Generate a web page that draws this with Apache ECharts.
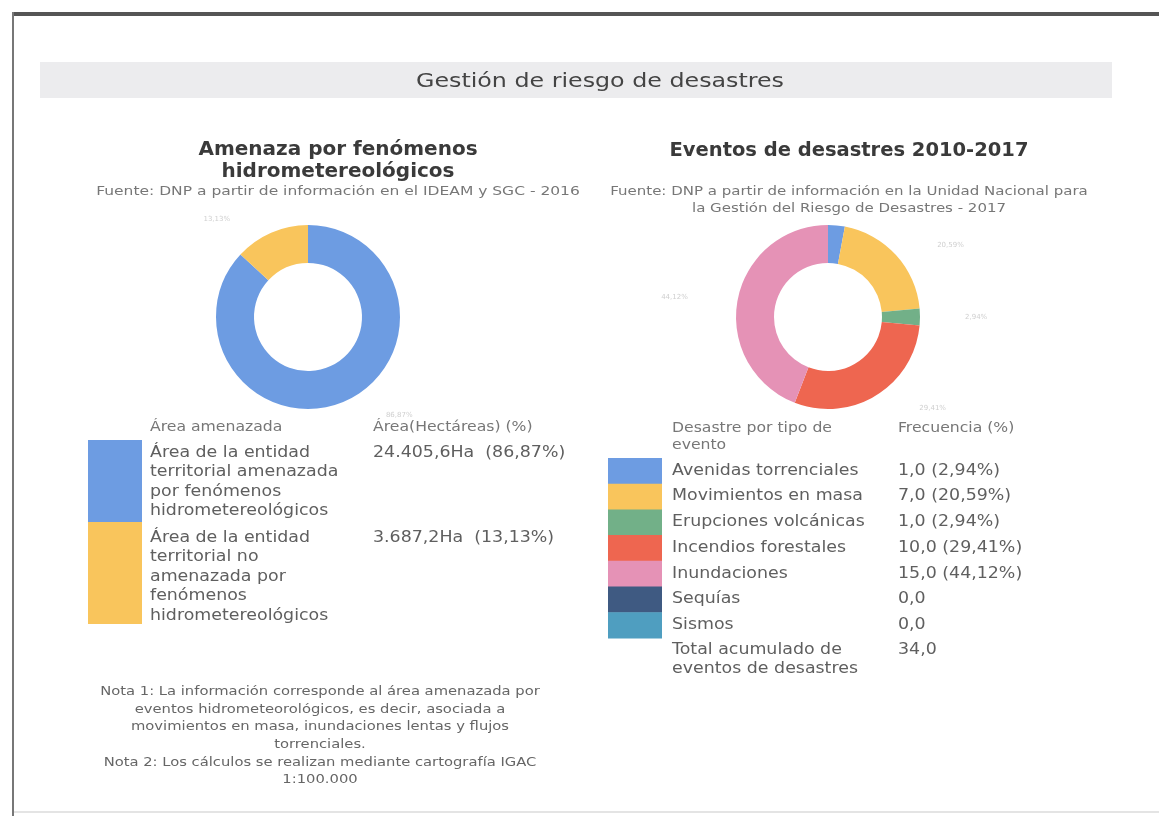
<!DOCTYPE html>
<html><head><meta charset="utf-8">
<script src="https://cdn.jsdelivr.net/npm/echarts@6/dist/echarts.min.js"></script>
<style>html,body{margin:0;padding:0;background:#fff}#c{width:1159px;height:816px}</style>
</head><body><div id="c"></div>
<script>
// ---------- data ----------
const pageTitle = 'Gestión de riesgo de desastres';
const leftTitle = ['Amenaza por fenómenos', 'hidrometereológicos'];
const leftSource = ['Fuente: DNP a partir de información en el IDEAM y SGC - 2016'];
const rightTitle = ['Eventos de desastres 2010-2017'];
const rightSource = ['Fuente: DNP a partir de información en la Unidad Nacional para', 'la Gestión del Riesgo de Desastres - 2017'];

const areaHeader = ['Área amenazada', 'Área(Hectáreas) (%)'];
const areaCategories = [
  ['Área de la entidad', 'territorial amenazada', 'por fenómenos', 'hidrometereológicos'],
  ['Área de la entidad', 'territorial no', 'amenazada por', 'fenómenos', 'hidrometereológicos']
];
const areaValues = [24405.6, 3687.2];
const areaText = ['24.405,6Ha  (86,87%)', '3.687,2Ha  (13,13%)'];
const areaPctLabels = ['86,87%', '13,13%'];

const eventHeader = [['Desastre por tipo de', 'evento'], 'Frecuencia (%)'];
const eventCategories = ['Avenidas torrenciales', 'Movimientos en masa', 'Erupciones volcánicas', 'Incendios forestales', 'Inundaciones', 'Sequías', 'Sismos'];
const eventValues = [1, 7, 1, 10, 15, 0, 0];
const eventText = ['1,0 (2,94%)', '7,0 (20,59%)', '1,0 (2,94%)', '10,0 (29,41%)', '15,0 (44,12%)', '0,0', '0,0'];
const eventPctLabels = ['2,94%', '20,59%', '2,94%', '29,41%', '44,12%', '', ''];
const eventTotal = [['Total acumulado de', 'eventos de desastres'], '34,0'];

const notes = [
  'Nota 1: La información corresponde al área amenazada por',
  'eventos hidrometeorológicos, es decir, asociada a',
  'movimientos en masa, inundaciones lentas y flujos',
  'torrenciales.',
  'Nota 2: Los cálculos se realizan mediante cartografía IGAC',
  '1:100.000'
];

// ---------- style ----------
const areaColors = ['#6d9ce2', '#f9c55c'];
const eventColors = ['#6d9ce2', '#f9c55c', '#72b088', '#ee6650', '#e592b6', '#3f5a82', '#4f9ec0'];
const FONT = "'DejaVu Sans', 'Liberation Sans', sans-serif";
const txt = '#5f5f5f';

function T(text, x, y, size, opts) {
  opts = opts || {};
  return { type: 'text', silent: true, z: 10,
    scaleX: opts.sx || 1, originX: x, originY: y,
    style: {
      text: text, x: x, y: y, fill: opts.fill || txt,
      font: (opts.weight || 'normal') + ' ' + size + 'px ' + FONT,
      textAlign: opts.align || 'left', textVerticalAlign: 'middle'
    }};
}

const SX = 1.16;
const g = [];
// frame
g.push({ type: 'rect', shape: { x: 12, y: 12, width: 1147, height: 4 }, style: { fill: '#555' }, silent: true });
g.push({ type: 'rect', shape: { x: 12, y: 12, width: 2, height: 804 }, style: { fill: '#777' }, silent: true });
g.push({ type: 'rect', shape: { x: 14, y: 811, width: 1145, height: 2 }, style: { fill: '#e4e4e4' }, silent: true });
// header band
g.push({ type: 'rect', shape: { x: 40, y: 62, width: 1072, height: 36 }, style: { fill: '#ececee' }, silent: true });
g.push(T(pageTitle, 600, 82, 19, { fill: '#444', align: 'center', sx: 1.25 }));

// titles
leftTitle.forEach((s, i) => g.push(T(s, 338, 150 + i * 22, 20, { weight: 'bold', fill: '#3a3a3a', align: 'center' })));
leftSource.forEach((s, i) => g.push(T(s, 338, 192 + i * 17, 12.5, { fill: '#777', align: 'center', sx: 1.24 })));
rightTitle.forEach((s, i) => g.push(T(s, 849, 151 + i * 22, 19.5, { weight: 'bold', fill: '#3a3a3a', align: 'center' })));
rightSource.forEach((s, i) => g.push(T(s, 849, 192 + i * 17, 12.5, { fill: '#777', align: 'center', sx: 1.2 })));

// left table
g.push(T(areaHeader[0], 150, 427, 13.5, { fill: '#777', sx: SX }));
g.push(T(areaHeader[1], 373, 427, 13.5, { fill: '#777', sx: SX }));
let yTop = 440;
const LH = 19.5;
areaCategories.forEach((lines, i) => {
  const h = i === 0 ? 82 : 102;
  g.push({ type: 'rect', shape: { x: 88, y: yTop, width: 54, height: h }, style: { fill: areaColors[i] }, silent: true });
  const y0 = yTop + (i === 0 ? 13 : 16);
  lines.forEach((s, j) => g.push(T(s, 150, y0 + j * LH, 15, { sx: SX })));
  g.push(T(areaText[i], 373, y0, 15, { sx: SX }));
  yTop += h;
});

// right table
g.push(T(eventHeader[0][0], 672, 428, 13.5, { fill: '#777', sx: SX }));
g.push(T(eventHeader[0][1], 672, 445, 13.5, { fill: '#777', sx: SX }));
g.push(T(eventHeader[1], 898, 428, 13.5, { fill: '#777', sx: SX }));
const RH = 25.7;
eventCategories.forEach((s, i) => {
  const y = 458 + i * RH;
  g.push({ type: 'rect', shape: { x: 608, y: y, width: 54, height: RH + 0.5 }, style: { fill: eventColors[i] }, silent: true });
  g.push(T(s, 672, y + RH / 2, 15, { sx: SX }));
  g.push(T(eventText[i], 898, y + RH / 2, 15, { sx: SX }));
});
g.push(T(eventTotal[0][0], 672, 650, 15, { sx: SX }));
g.push(T(eventTotal[0][1], 672, 669, 15, { sx: SX }));
g.push(T(eventTotal[1], 898, 650, 15, { sx: SX }));

// notes
notes.forEach((s, i) => g.push(T(s, 320, 692 + i * 17.6, 12.5, { fill: '#666', align: 'center', sx: 1.18 })));

const chart = echarts.init(document.getElementById('c'), null, { renderer: 'canvas' });
chart.setOption({
  animation: false,
  backgroundColor: '#fff',
  graphic: g,
  series: [
    {
      type: 'pie', center: [308, 317], radius: [54, 92], startAngle: 90, silent: true,
      data: areaValues.map((v, i) => ({ value: v, name: areaCategories[i].join(' '), itemStyle: { color: areaColors[i] } })),
      label: { show: true, position: 'outside', fontSize: 7, color: '#cfcfcf', fontFamily: FONT,
               formatter: p => areaPctLabels[p.dataIndex] },
      labelLine: { show: false }
    },
    {
      type: 'pie', center: [828, 317], radius: [54, 92], startAngle: 90, silent: true,
      data: eventValues.map((v, i) => ({ value: v, name: eventCategories[i], itemStyle: { color: eventColors[i] } })),
      label: { show: true, position: 'outside', fontSize: 7, color: '#cfcfcf', fontFamily: FONT,
               formatter: p => (p.value > 0 && p.dataIndex > 0) ? eventPctLabels[p.dataIndex] : '' },
      labelLine: { show: false }
    }
  ]
});
</script>
</body></html>
